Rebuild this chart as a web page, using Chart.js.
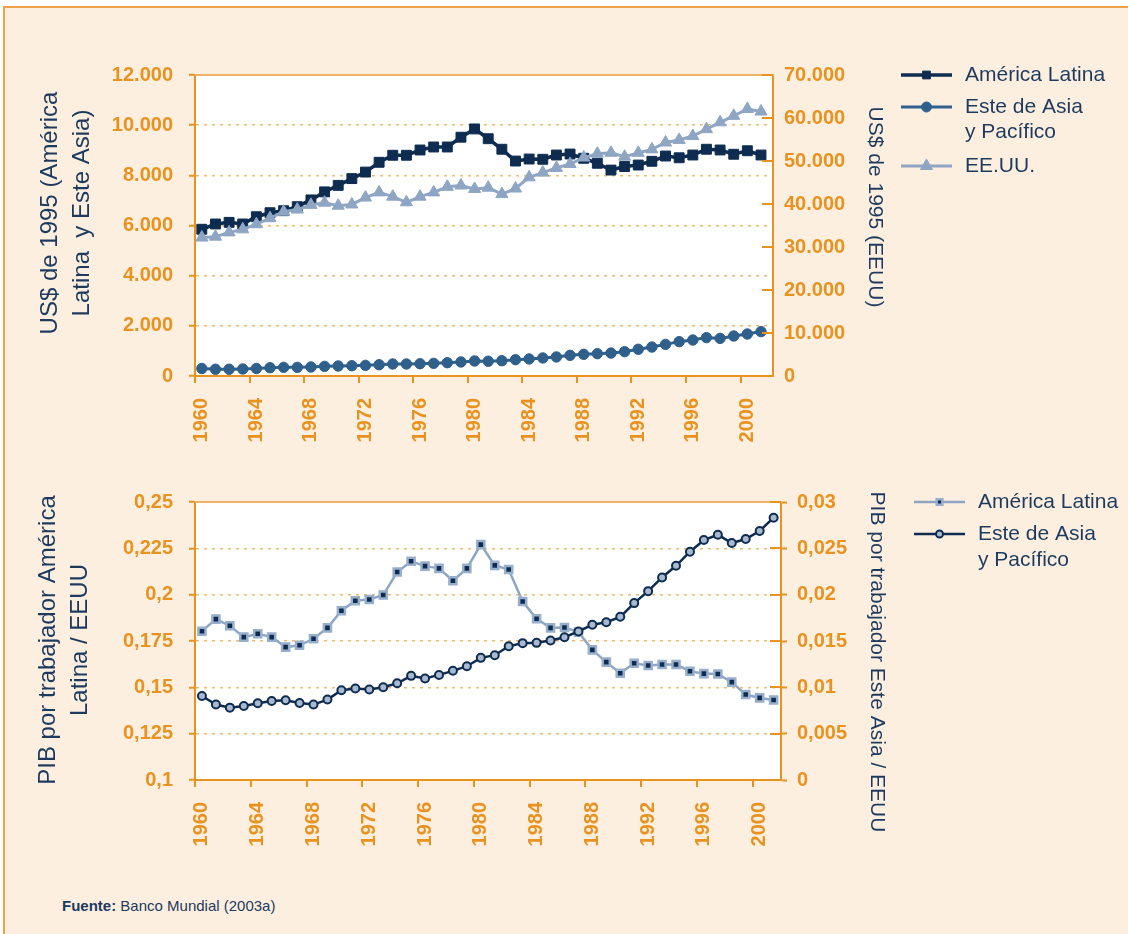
<!DOCTYPE html>
<html>
<head>
<meta charset="utf-8">
<script src="https://cdn.jsdelivr.net/npm/chart.js@4.4.1/dist/chart.umd.min.js"></script>
<style>
  body { margin: 0; background: #fff; width: 1128px; height: 934px; overflow: hidden; position: relative; }
  #frame { position: absolute; left: 3px; top: 6px; width: 1140px; height: 940px; background: #fcefe0;
           border-top: 2px solid #eea34a; border-left: 2px solid #eea34a; }
  #topChart { position: absolute; left: 0; top: 0; }
  #bottomChart { position: absolute; left: 0; top: 450px; }
  #fuente { position: absolute; left: 62px; top: 897px; color: #1d3a5e; font-size: 15px;
            font-family: 'Liberation Sans', Arial, sans-serif; }
</style>
</head>
<body>
<div id="frame"></div>
<canvas id="topChart" width="1128" height="450"></canvas>
<canvas id="bottomChart" width="1128" height="420"></canvas>
<div id="fuente"><b>Fuente:</b> Banco Mundial (2003a)</div>
<script>
// years and labelled ticks
const years = [1960,1961,1962,1963,1964,1965,1966,1967,1968,1969,1970,1971,1972,1973,1974,1975,1976,1977,1978,1979,1980,
               1981,1982,1983,1984,1985,1986,1987,1988,1989,1990,1991,1992,1993,1994,1995,1996,1997,1998,1999,2000,2001];
const tickYears = [1960,1964,1968,1972,1976,1980,1984,1988,1992,1996,2000];

// top: PIB per capita, US$ de 1995
const alPib = [5850,6060,6125,6060,6350,6510,6590,6750,7020,7340,7600,7870,8130,8520,8800,8800,9010,9130,9130,9520,9850,
               9460,9040,8570,8650,8640,8810,8850,8680,8480,8210,8350,8410,8560,8770,8700,8810,9040,9010,8840,8980,8810];
const eaPib = [300,270,270,280,300,330,345,345,360,385,400,410,425,450,480,480,490,505,530,560,600,
               590,610,650,680,720,760,825,865,890,915,970,1065,1155,1260,1370,1435,1530,1500,1595,1675,1770];
const usPib = [32200,32400,33400,34100,35300,36700,38200,38700,39800,40300,39600,39900,41500,42700,41700,40400,41700,42700,44000,44300,43500,
               43800,42300,43600,46200,47300,48400,49300,50800,51700,51900,51000,51900,52700,54300,54900,55800,57400,59000,60500,62100,61500];

// bottom: PIB por trabajador relativo a EEUU
const alRatio = [0.1803,0.1868,0.1832,0.1771,0.1789,0.1771,0.1717,0.1727,0.1762,0.1821,0.1913,0.1967,0.1974,0.1998,0.2122,0.2180,0.2154,0.2142,0.2075,0.2142,0.2270,
                 0.2158,0.2136,0.1963,0.1870,0.1821,0.1823,0.1798,0.1702,0.1636,0.1576,0.1630,0.1618,0.1623,0.1623,0.1587,0.1574,0.1572,0.1528,0.1461,0.1443,0.1432];
const eaRatio = [0.00907,0.00814,0.00781,0.00799,0.00828,0.00853,0.00861,0.00831,0.00814,0.00868,0.00969,0.00987,0.00976,0.01001,0.01044,0.01124,0.01095,0.01134,0.01178,0.01228,0.01318,
                 0.01347,0.01444,0.01477,0.01480,0.01505,0.01541,0.01603,0.01675,0.01703,0.01761,0.01909,0.02038,0.02186,0.02312,0.02464,0.02590,0.02647,0.02557,0.02600,0.02687,0.02831];

const orange = '#e8921f';
const gridOrange = '#f3b86c';
const navy = '#0e2c50';
const steel = '#2f5f8b';
const greyBlue = '#8ea6c3';
const textNavy = '#1d3a5e';
const plain = "'Liberation Sans', Arial, sans-serif";
const tickFont = { family: plain, size: 20, weight: 'bold' };

const pts = vals => years.map((y, i) => ({ x: y, y: vals[i] }));
const thousands = v => String(v).replace(/\B(?=(\d{3})+(?!\d))/g, '.');
const decimal = v => String(parseFloat(v.toFixed(4))).replace('.', ',');

// white plot area, frame lines, x tick marks between years, titles and legend
const deco = {
  id: 'deco',
  beforeDraw(chart) {
    const { ctx, chartArea: a } = chart;
    ctx.save();
    ctx.fillStyle = '#fff';
    ctx.fillRect(a.left, a.top, a.right - a.left, a.bottom - a.top);
    ctx.restore();
  },
  afterDraw(chart, args, o) {
    const { ctx, chartArea: a, scales } = chart;
    ctx.save();
    ctx.strokeStyle = '#efb266';
    ctx.lineWidth = 2;
    ctx.beginPath(); ctx.moveTo(a.left, a.top); ctx.lineTo(a.right + 1, a.top); ctx.stroke();

    ctx.strokeStyle = orange;
    tickYears.forEach(t => {
      const px = Math.round(scales.x.getPixelForValue(t - 0.5));
      ctx.beginPath(); ctx.moveTo(px, a.bottom); ctx.lineTo(px, a.bottom + 7); ctx.stroke();
    });
    if (o.innerTicks) {
      scales.y1.ticks.forEach(t => {
        const py = Math.round(scales.y1.getPixelForValue(t.value));
        ctx.beginPath(); ctx.moveTo(a.right - 11, py); ctx.lineTo(a.right, py); ctx.stroke();
      });
    }

    ctx.fillStyle = textNavy;
    ctx.textAlign = 'center';
    ctx.textBaseline = 'middle';
    o.titles.forEach(t => {
      ctx.save();
      ctx.translate(t.x, t.y);
      ctx.rotate(t.rot);
      ctx.font = t.size + 'px ' + plain;
      t.text.forEach((line, i) => ctx.fillText(line, 0, (i - (t.text.length - 1) / 2) * t.lh));
      ctx.restore();
    });

    const L = o.legend;
    ctx.font = '21px ' + plain;
    ctx.textAlign = 'left';
    L.items.forEach(it => {
      const ds = chart.data.datasets[it.ds];
      ctx.strokeStyle = ds.borderColor;
      ctx.lineWidth = ds.borderWidth;
      ctx.beginPath(); ctx.moveTo(L.x0, it.y); ctx.lineTo(L.x1, it.y); ctx.stroke();
      ctx.fillStyle = ds.pointBackgroundColor;
      ctx.strokeStyle = ds.pointBorderColor;
      ctx.lineWidth = ds.pointBorderWidth;
      Chart.helpers.drawPoint(ctx, { pointStyle: ds.pointStyle, radius: it.r, borderWidth: ds.pointBorderWidth, rotation: 0 }, (L.x0 + L.x1) / 2, it.y);
      ctx.fillStyle = textNavy;
      it.lines.forEach((s, i) => ctx.fillText(s, L.tx, it.y + i * L.lh));
    });
    ctx.restore();
  }
};

function xAxis(max, height) {
  return {
    type: 'linear', min: 1959.5, max: max,
    afterBuildTicks: s => { s.ticks = tickYears.map(v => ({ value: v })); },
    afterFit: s => { s.height = height; },
    grid: { display: false, drawTicks: false },
    border: { color: orange, width: 2 },
    ticks: { font: tickFont, color: orange, minRotation: 90, maxRotation: 90, autoSkip: false, padding: 22,
             callback: v => String(v) }
  };
}

function leftGrid(min, max) {
  return {
    color: c => (c.tick && c.tick.value > min + 1e-9 && c.tick.value < max - 1e-9) ? gridOrange : 'rgba(0,0,0,0)',
    lineWidth: 1.5, tickColor: orange, tickLength: 6, tickWidth: 2
  };
}

new Chart(document.getElementById('topChart'), {
  type: 'line',
  data: {
    datasets: [
      { label: 'América Latina', data: pts(alPib), yAxisID: 'y', order: 1,
        borderColor: navy, borderWidth: 3.5, pointStyle: 'rect', pointRadius: 7, pointBorderWidth: 1,
        pointBackgroundColor: navy, pointBorderColor: navy },
      { label: 'Este de Asia y Pacífico', data: pts(eaPib), yAxisID: 'y', order: 2,
        borderColor: steel, borderWidth: 3, pointStyle: 'circle', pointRadius: 5.2, pointBorderWidth: 1,
        pointBackgroundColor: steel, pointBorderColor: steel },
      { label: 'EE.UU.', data: pts(usPib), yAxisID: 'y1', order: 0,
        borderColor: greyBlue, borderWidth: 3, pointStyle: 'triangle', pointRadius: 7, pointBorderWidth: 1,
        pointBackgroundColor: greyBlue, pointBorderColor: greyBlue }
    ]
  },
  options: {
    responsive: false, animation: false, devicePixelRatio: 1,
    layout: { padding: { top: 75, left: 0, right: 255, bottom: 0 } },
    plugins: {
      legend: { display: false }, tooltip: { enabled: false },
      deco: {
        innerTicks: true,
        titles: [
          { text: ['US$ de 1995 (América', 'Latina  y Este Asia)'], x: 66, y: 213, rot: -Math.PI / 2, size: 24, lh: 32 },
          { text: ['US$ de 1995 (EEUU)'], x: 875, y: 207, rot: Math.PI / 2, size: 21, lh: 25 }
        ],
        legend: { x0: 901, x1: 952, tx: 965, lh: 25, items: [
          { ds: 0, y: 75, r: 5.5, lines: ['América Latina'] },
          { ds: 1, y: 107, r: 5, lines: ['Este de Asia', 'y Pacífico'] },
          { ds: 2, y: 166, r: 7, lines: ['EE.UU.'] }
        ] }
      }
    },
    scales: {
      x: xAxis(2001.88, 74),
      y: {
        position: 'left', min: 0, max: 12000,
        afterFit: s => { s.width = 195; },
        grid: leftGrid(0, 12000),
        border: { color: orange, width: 2, dash: [3, 5] },
        ticks: { stepSize: 2000, font: tickFont, color: orange, padding: 16, callback: v => thousands(v) }
      },
      y1: {
        position: 'right', min: 0, max: 70000,
        afterFit: s => { s.width = 100; },
        grid: { drawOnChartArea: false, drawTicks: false },
        border: { color: orange, width: 2 },
        ticks: { stepSize: 10000, font: tickFont, color: orange, padding: 11, callback: v => thousands(v) }
      }
    }
  },
  plugins: [deco]
});

new Chart(document.getElementById('bottomChart'), {
  type: 'line',
  data: {
    datasets: [
      { label: 'América Latina', data: pts(alRatio), yAxisID: 'y', order: 1,
        borderColor: greyBlue, borderWidth: 2.5, pointStyle: 'rect', pointRadius: 5, pointBorderWidth: 2.5,
        pointBackgroundColor: navy, pointBorderColor: '#98afcb' },
      { label: 'Este de Asia y Pacífico', data: pts(eaRatio), yAxisID: 'y1', order: 0,
        borderColor: navy, borderWidth: 2.5, pointStyle: 'circle', pointRadius: 4, pointBorderWidth: 2,
        pointBackgroundColor: '#a9bad0', pointBorderColor: navy }
    ]
  },
  options: {
    responsive: false, animation: false, devicePixelRatio: 1,
    layout: { padding: { top: 52, left: 0, right: 247, bottom: 0 } },
    plugins: {
      legend: { display: false }, tooltip: { enabled: false },
      deco: {
        innerTicks: true,
        titles: [
          { text: ['PIB por trabajador América', 'Latina / EEUU'], x: 64, y: 190, rot: -Math.PI / 2, size: 24, lh: 32 },
          { text: ['PIB por trabajador Este Asia / EEUU'], x: 877, y: 212, rot: Math.PI / 2, size: 21, lh: 25 }
        ],
        legend: { x0: 914, x1: 965, tx: 978, lh: 26, items: [
          { ds: 0, y: 52, r: 4, lines: ['América Latina'] },
          { ds: 1, y: 84, r: 3.5, lines: ['Este de Asia', 'y Pacífico'] }
        ] }
      }
    },
    scales: {
      x: xAxis(2001.53, 90),
      y: {
        position: 'left', min: 0.1, max: 0.25,
        afterFit: s => { s.width = 195; },
        grid: leftGrid(0.1, 0.25),
        border: { color: orange, width: 2, dash: [3, 5] },
        ticks: { stepSize: 0.025, font: tickFont, color: orange, padding: 16, callback: v => decimal(v) }
      },
      y1: {
        position: 'right', min: 0, max: 0.03,
        afterFit: s => { s.width = 100; },
        grid: { drawOnChartArea: false, tickLength: 6, tickWidth: 2, color: orange },
        border: { color: orange, width: 2 },
        ticks: { stepSize: 0.005, font: tickFont, color: orange, padding: 10, callback: v => decimal(v) }
      }
    }
  },
  plugins: [deco]
});
</script>
</body>
</html>
